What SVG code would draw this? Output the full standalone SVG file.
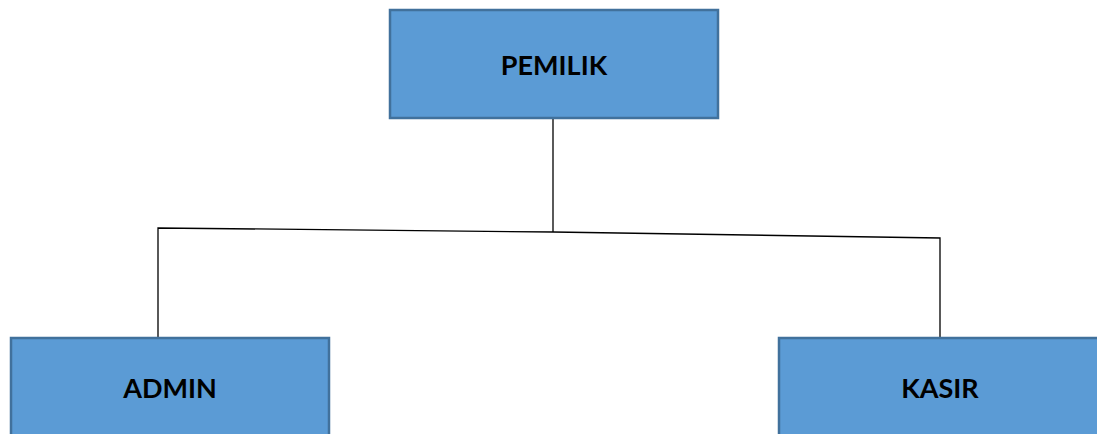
<svg xmlns="http://www.w3.org/2000/svg" width="1097" height="434" viewBox="0 0 1097 434">
<style>
.box{fill:#5B9BD5;stroke:#41719C;stroke-width:2.5}
.lbl{font-family:Lato,"Liberation Sans",sans-serif;font-weight:bold;font-size:27px;fill:#000;text-anchor:middle}
.con{fill:none;stroke:#000;stroke-width:1.3}
</style>
<rect width="1097" height="434" fill="#fff"/>
<g id="connectors">
<line class="con" x1="553" y1="118" x2="553" y2="232"/>
<polyline class="con" points="158,338 158,228 553,232 940,238 940,338"/>
</g>
<g id="pemilik">
<rect class="box" x="390" y="10" width="328" height="108"/>
<text class="lbl" x="554" y="75">PEMILIK</text>
</g>
<g id="admin">
<rect class="box" x="11" y="338" width="318" height="110"/>
<text class="lbl" x="170" y="398">ADMIN</text>
</g>
<g id="kasir">
<rect class="box" x="779" y="338" width="330" height="110"/>
<text class="lbl" x="940" y="398">KASIR</text>
</g>
</svg>
